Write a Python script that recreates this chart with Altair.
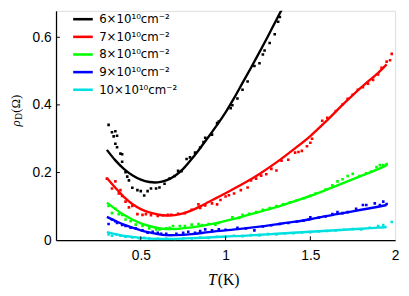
import altair as alt
import pandas as pd

# ---------------- data ----------------
series = ["6×10¹⁰cm⁻²", "7×10¹⁰cm⁻²", "8×10¹⁰cm⁻²", "9×10¹⁰cm⁻²", "10×10¹⁰cm⁻²"]
colors = ["#000000", "#ff0000", "#00ff00", "#0000ff", "#00e0e0"]

# fitted curves
fit6_T = [0.3, 0.35, 0.4, 0.45, 0.5, 0.55, 0.6, 0.65, 0.7, 0.75, 0.8, 0.85, 0.9, 0.95, 1.0, 1.05, 1.1, 1.15, 1.2, 1.25, 1.3, 1.35, 1.4]
fit6_r = [0.267, 0.236, 0.211, 0.192, 0.179, 0.172, 0.171, 0.177, 0.190, 0.211, 0.240, 0.272, 0.306, 0.341, 0.378, 0.420, 0.465, 0.510, 0.556, 0.603, 0.652, 0.700, 0.750]

fit7_T = [0.3, 0.35, 0.4, 0.45, 0.5, 0.55, 0.6, 0.65, 0.7, 0.75, 0.8, 0.85, 0.9, 0.95, 1.0, 1.1, 1.2, 1.3, 1.4, 1.5, 1.6, 1.7, 1.8, 1.9, 1.95]
fit7_r = [0.184, 0.155, 0.128, 0.107, 0.092, 0.082, 0.076, 0.073, 0.074, 0.079, 0.088, 0.100, 0.113, 0.126, 0.139, 0.166, 0.196, 0.230, 0.268, 0.308, 0.355, 0.405, 0.452, 0.495, 0.520]

fit8_T = [0.3, 0.35, 0.4, 0.45, 0.5, 0.55, 0.6, 0.65, 0.7, 0.8, 0.9, 1.0, 1.1, 1.2, 1.3, 1.4, 1.5, 1.6, 1.7, 1.8, 1.9, 1.95]
fit8_r = [0.111, 0.092, 0.075, 0.061, 0.050, 0.042, 0.036, 0.033, 0.033, 0.038, 0.046, 0.057, 0.070, 0.084, 0.098, 0.114, 0.131, 0.150, 0.170, 0.190, 0.210, 0.222]

fit9_T = [0.3, 0.35, 0.4, 0.45, 0.5, 0.55, 0.6, 0.65, 0.7, 0.8, 0.9, 1.0, 1.1, 1.2, 1.3, 1.4, 1.5, 1.6, 1.7, 1.8, 1.9, 1.95]
fit9_r = [0.069, 0.057, 0.046, 0.037, 0.029, 0.023, 0.018, 0.015, 0.015, 0.018, 0.024, 0.029, 0.034, 0.040, 0.047, 0.054, 0.062, 0.072, 0.081, 0.090, 0.099, 0.104]

fit10_T = [0.3, 0.35, 0.4, 0.45, 0.5, 0.6, 0.7, 0.8, 0.9, 1.0, 1.1, 1.2, 1.3, 1.4, 1.5, 1.6, 1.7, 1.8, 1.9, 1.95]
fit10_r = [0.024, 0.018, 0.013, 0.010, 0.007, 0.004, 0.004, 0.006, 0.008, 0.011, 0.013, 0.016, 0.019, 0.022, 0.025, 0.028, 0.031, 0.034, 0.037, 0.039]

# measured points
pts6_T = [0.31, 0.33, 0.34, 0.35, 0.35, 0.36, 0.36, 0.38, 0.39, 0.39, 0.41, 0.42, 0.43, 0.45, 0.48, 0.50, 0.52, 0.54, 0.56, 0.59, 0.61, 0.64, 0.67, 0.70, 0.72, 0.74, 0.77, 0.79, 0.82, 0.85, 0.87, 0.88, 0.92, 0.95, 0.96, 1.03, 1.04, 1.07, 1.10, 1.13, 1.17, 1.20, 1.22, 1.23, 1.26, 1.29, 1.31, 1.32]
pts6_r = [0.341, 0.319, 0.307, 0.322, 0.285, 0.309, 0.275, 0.256, 0.254, 0.232, 0.201, 0.188, 0.177, 0.155, 0.148, 0.145, 0.132, 0.145, 0.153, 0.153, 0.156, 0.167, 0.182, 0.190, 0.205, 0.204, 0.240, 0.245, 0.259, 0.274, 0.290, 0.303, 0.312, 0.346, 0.351, 0.390, 0.399, 0.419, 0.445, 0.469, 0.515, 0.523, 0.549, 0.561, 0.583, 0.609, 0.646, 0.660]

pts7_T = [0.30, 0.33, 0.35, 0.37, 0.38, 0.39, 0.41, 0.43, 0.45, 0.48, 0.51, 0.53, 0.56, 0.60, 0.63, 0.66, 0.68, 0.72, 0.76, 0.80, 0.84, 0.85, 0.88, 0.92, 0.95, 0.97, 1.00, 1.02, 1.05, 1.09, 1.13, 1.15, 1.18, 1.21, 1.24, 1.27, 1.30, 1.33, 1.37, 1.41, 1.43, 1.45, 1.48, 1.50, 1.51, 1.57, 1.60, 1.65, 1.69, 1.72, 1.75, 1.78, 1.81, 1.84, 1.87, 1.90, 1.92, 1.95, 1.97, 1.98]
pts7_r = [0.182, 0.153, 0.174, 0.138, 0.148, 0.131, 0.114, 0.097, 0.101, 0.077, 0.075, 0.077, 0.074, 0.072, 0.074, 0.075, 0.075, 0.078, 0.080, 0.090, 0.106, 0.095, 0.103, 0.109, 0.106, 0.119, 0.129, 0.133, 0.138, 0.148, 0.156, 0.177, 0.182, 0.191, 0.195, 0.211, 0.206, 0.235, 0.238, 0.259, 0.261, 0.264, 0.278, 0.288, 0.300, 0.353, 0.362, 0.382, 0.401, 0.418, 0.430, 0.445, 0.452, 0.463, 0.474, 0.490, 0.510, 0.528, 0.532, 0.551]

pts8_T = [0.31, 0.33, 0.35, 0.37, 0.39, 0.41, 0.44, 0.47, 0.51, 0.55, 0.59, 0.61, 0.65, 0.67, 0.69, 0.73, 0.76, 0.80, 0.84, 0.86, 0.90, 0.94, 0.96, 1.04, 1.08, 1.10, 1.14, 1.18, 1.22, 1.26, 1.30, 1.34, 1.38, 1.42, 1.46, 1.50, 1.53, 1.59, 1.63, 1.66, 1.69, 1.72, 1.75, 1.79, 1.83, 1.86, 1.89, 1.91, 1.93, 1.95]
pts8_r = [0.101, 0.080, 0.093, 0.077, 0.075, 0.061, 0.056, 0.046, 0.042, 0.035, 0.032, 0.032, 0.035, 0.037, 0.042, 0.042, 0.042, 0.046, 0.048, 0.045, 0.048, 0.046, 0.051, 0.068, 0.066, 0.075, 0.078, 0.083, 0.090, 0.095, 0.101, 0.106, 0.112, 0.118, 0.124, 0.131, 0.138, 0.150, 0.162, 0.174, 0.180, 0.190, 0.196, 0.190, 0.198, 0.203, 0.216, 0.222, 0.222, 0.225]

pts9_T = [0.31, 0.33, 0.35, 0.36, 0.39, 0.41, 0.44, 0.47, 0.51, 0.54, 0.57, 0.60, 0.62, 0.65, 0.71, 0.75, 0.78, 0.82, 0.85, 0.88, 0.92, 0.96, 1.00, 1.07, 1.12, 1.17, 1.22, 1.27, 1.32, 1.37, 1.42, 1.46, 1.49, 1.50, 1.55, 1.59, 1.63, 1.66, 1.69, 1.72, 1.77, 1.81, 1.83, 1.88, 1.91, 1.93, 1.95]
pts9_r = [0.048, 0.061, 0.056, 0.051, 0.045, 0.042, 0.037, 0.035, 0.029, 0.022, 0.025, 0.022, 0.019, 0.019, 0.019, 0.022, 0.025, 0.022, 0.027, 0.032, 0.029, 0.032, 0.031, 0.037, 0.035, 0.029, 0.041, 0.044, 0.048, 0.051, 0.055, 0.058, 0.061, 0.068, 0.067, 0.070, 0.077, 0.083, 0.080, 0.083, 0.093, 0.104, 0.104, 0.109, 0.104, 0.114, 0.107]

pts10_T = [0.31, 0.33, 0.355, 0.38, 0.41, 0.45, 0.49, 0.52, 0.55, 0.60, 0.65, 0.70, 0.75, 0.80, 0.85, 0.90, 0.95, 1.00, 1.05, 1.10, 1.15, 1.20, 1.25, 1.30, 1.35, 1.40, 1.45, 1.50, 1.55, 1.60, 1.65, 1.70, 1.75, 1.80, 1.85, 1.90, 1.93, 1.98]
pts10_r = [0.017, 0.013, 0.017, 0.013, 0.010, 0.008, 0.006, 0.007, 0.005, 0.004, 0.005, 0.003, 0.006, 0.005, 0.008, 0.007, 0.010, 0.010, 0.013, 0.012, 0.015, 0.014, 0.018, 0.017, 0.020, 0.021, 0.023, 0.024, 0.026, 0.027, 0.029, 0.031, 0.033, 0.032, 0.037, 0.042, 0.045, 0.054]

x_ticks = [0.5, 1, 1.5, 2]
y_ticks = [0, 0.2, 0.4, 0.6]

# ---------------- tables ----------------
fits = [(fit6_T, fit6_r), (fit7_T, fit7_r), (fit8_T, fit8_r), (fit9_T, fit9_r), (fit10_T, fit10_r)]
pts = [(pts6_T, pts6_r), (pts7_T, pts7_r), (pts8_T, pts8_r), (pts9_T, pts9_r), (pts10_T, pts10_r)]

fit_rows, pt_rows = [], []
for name, (T, r) in zip(series, fits):
    for t, v in zip(T, r):
        fit_rows.append({"series": name, "T": t, "rho": v})
for name, (T, r) in zip(series, pts):
    for t, v in zip(T, r):
        pt_rows.append({"series": name, "T": t, "rho": v})
fit_df = pd.DataFrame(fit_rows)
pt_df = pd.DataFrame(pt_rows)

W, H = 346, 234
xs = alt.Scale(domain=[0, 2], nice=False, zero=False)
ys = alt.Scale(domain=[0, 0.678], nice=False)
cs = alt.Scale(domain=series, range=colors)

x_axis = alt.Axis(values=x_ticks, format="~g", title=None, grid=False, ticks=False, tickSize=0,
                  labelFontSize=14, labelFont="Liberation Sans", labelColor="black", labelPadding=9,
                  domainColor="black", domainWidth=1.3, labelFlush=False)
y_axis = alt.Axis(values=y_ticks, title=None, grid=False, ticks=False, tickSize=0,
                  labelExpr="datum.value == 0 ? '0' : format(datum.value, '.1f')",
                  labelFontSize=14, labelFont="Liberation Sans", labelColor="black", labelPadding=5,
                  domainColor="black", domainWidth=1.3, labelFlush=False)

legend = alt.Legend(title=None, orient="none", legendX=16, legendY=-3, symbolType="stroke",
                    symbolSize=400, symbolStrokeWidth=2.6, labelFontSize=12,
                    labelFont="DejaVu Sans", labelColor="black", labelOffset=5,
                    rowPadding=-0.5, padding=0)

lines = alt.Chart(fit_df).mark_line(strokeWidth=2.4, clip=True, interpolate="catmull-rom").encode(
    x=alt.X("T:Q", scale=xs, axis=x_axis),
    y=alt.Y("rho:Q", scale=ys, axis=y_axis),
    color=alt.Color("series:N", scale=cs, legend=legend, sort=series),
    detail="series:N",
)

dots = alt.Chart(pt_df).mark_square(size=7, opacity=1, clip=True).encode(
    x=alt.X("T:Q", scale=xs),
    y=alt.Y("rho:Q", scale=ys),
    color=alt.Color("series:N", scale=cs, sort=series),
)

xt = alt.Chart(pd.DataFrame({"t": [0.5, 1, 1.5]})).mark_rule(color="black", strokeWidth=1).encode(
    x=alt.X("t:Q", scale=xs), y=alt.value(H), y2=alt.value(H - 4))
yt = alt.Chart(pd.DataFrame({"v": [0.2, 0.4, 0.6]})).mark_rule(color="black", strokeWidth=1).encode(
    y=alt.Y("v:Q", scale=ys), x=alt.value(0), x2=alt.value(4))

serif = "Liberation Serif"
ttl_rho = alt.Chart(pd.DataFrame({"s": ["ρ"]})).mark_text(
    font=serif, fontSize=13, fontStyle="italic", angle=270, align="left", baseline="alphabetic",
    color="black").encode(text="s:N", x=alt.value(-37), y=alt.value(118))
ttl_D = alt.Chart(pd.DataFrame({"s": ["D"]})).mark_text(
    font=serif, fontSize=9.5, angle=270, align="left", baseline="alphabetic",
    color="black").encode(text="s:N", x=alt.value(-34.5), y=alt.value(111))
ttl_O = alt.Chart(pd.DataFrame({"s": ["(Ω)"]})).mark_text(
    font=serif, fontSize=13, angle=270, align="left", baseline="alphabetic",
    color="black").encode(text="s:N", x=alt.value(-37), y=alt.value(104))

ttl_T = alt.Chart(pd.DataFrame({"s": ["T"]})).mark_text(
    font=serif, fontSize=16, fontStyle="italic", align="left", baseline="alphabetic",
    color="black").encode(text="s:N", x=alt.value(155), y=alt.value(280))
ttl_K = alt.Chart(pd.DataFrame({"s": ["(K)"]})).mark_text(
    font=serif, fontSize=16, align="left", baseline="alphabetic",
    color="black").encode(text="s:N", x=alt.value(165), y=alt.value(280))

chart = alt.layer(lines, dots, xt, yt, ttl_rho, ttl_D, ttl_O, ttl_T, ttl_K).properties(
    width=W, height=H,
    autosize=alt.AutoSizeParams(type="none"),
    padding={"left": 49, "top": 0, "right": 6, "bottom": 54},
).configure_view(stroke="black", strokeWidth=1.3).configure(background="white")

chart.save("out.html", embed_options={"renderer": "svg", "actions": False})
